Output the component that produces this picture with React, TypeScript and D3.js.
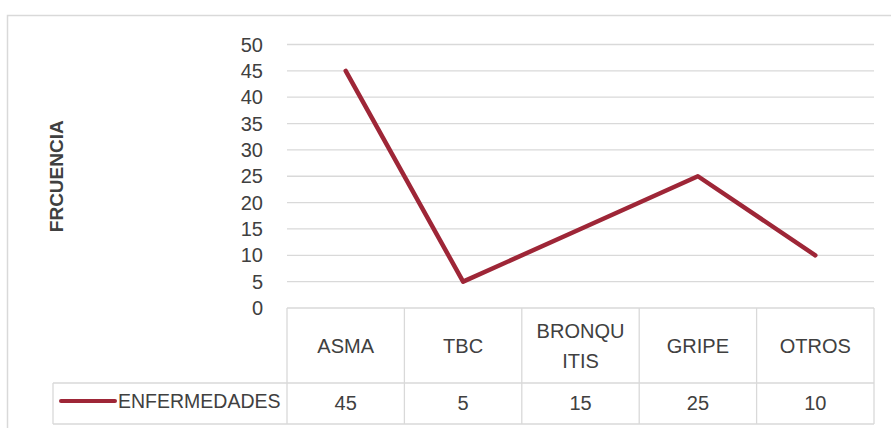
import React from "react";
import * as d3 from "d3";

const categories = ["ASMA", "TBC", "BRONQUITIS", "GRIPE", "OTROS"];
const categoryLabelLines = [["ASMA"], ["TBC"], ["BRONQU", "ITIS"], ["GRIPE"], ["OTROS"]];
const values = [45, 5, 15, 25, 10];
const seriesName = "ENFERMEDADES";
const yTicks = [0, 5, 10, 15, 20, 25, 30, 35, 40, 45, 50];
const yTitle = "FRCUENCIA";

const W = 891;
const H = 428;
const plotLeft = 287;
const plotRight = 874;
const plotTop = 44.5;
const plotBottom = 308;
const rowDivider = 383;
const tableBottom = 424;
const legendLeft = 53;
const lineColor = "#9e2637";
const gridColor = "#d9d9d9";
const textColor = "#404040";
const font = "'Liberation Sans', Arial, sans-serif";

export default function App() {
  const x = d3.scaleBand<string>().domain(categories).range([plotLeft, plotRight]).padding(0);
  const y = d3.scaleLinear().domain([0, 50]).range([plotBottom, plotTop]);
  const cx = (c: string) => (x(c) as number) + x.bandwidth() / 2;
  const line = d3
    .line<number>()
    .x((_, i) => cx(categories[i]))
    .y((d) => y(d));

  return (
    <svg width={W} height={H} style={{ position: "absolute", left: 0, top: 0, background: "#fff" }} fontFamily={font}>
      {/* chart border */}
      <rect x={7.5} y={15.5} width={W + 10} height={H + 10} fill="#fff" stroke={gridColor} strokeWidth={1.5} />
      {/* gridlines */}
      {yTicks.filter((t) => t > 0).map((t) => (
        <line key={t} x1={plotLeft} x2={plotRight} y1={y(t)} y2={y(t)} stroke={gridColor} strokeWidth={1.3} />
      ))}
      {/* tick labels */}
      {yTicks.map((t) => (
        <text key={t} x={263} y={y(t)} dy="0.35em" textAnchor="end" fontSize={20} fill={textColor}>
          {t}
        </text>
      ))}
      {/* y title */}
      <text
        transform={`translate(63, ${(plotTop + plotBottom) / 2}) rotate(-90)`}
        textAnchor="middle"
        fontSize={19}
        fontWeight="bold"
        fill={textColor}
      >
        {yTitle}
      </text>
      {/* data table */}
      <g stroke={gridColor} strokeWidth={1.3} fill="none">
        <line x1={plotLeft} x2={plotRight} y1={plotBottom} y2={plotBottom} />
        <line x1={legendLeft} x2={plotRight} y1={rowDivider} y2={rowDivider} />
        <line x1={legendLeft} x2={plotRight} y1={tableBottom} y2={tableBottom} />
        <line x1={legendLeft} x2={legendLeft} y1={rowDivider} y2={tableBottom} />
        {categories.map((c) => (
          <line key={c} x1={x(c) as number} x2={x(c) as number} y1={plotBottom} y2={tableBottom} />
        ))}
        <line x1={plotRight} x2={plotRight} y1={plotBottom} y2={tableBottom} />
      </g>
      {categories.map((c, i) => {
        const lines = categoryLabelLines[i];
        const mid = 346;
        const lh = 30;
        return (
          <text key={c} textAnchor="middle" fontSize={20} fill={textColor}>
            {lines.map((l, j) => (
              <tspan key={j} x={cx(c)} y={mid + (j - (lines.length - 1) / 2) * lh} dy="0.35em">
                {l}
              </tspan>
            ))}
          </text>
        );
      })}
      {values.map((v, i) => (
        <text key={i} x={cx(categories[i])} y={403} dy="0.35em" textAnchor="middle" fontSize={20} fill={textColor}>
          {v}
        </text>
      ))}
      {/* legend key */}
      <line x1={61} x2={115} y1={401} y2={401} stroke={lineColor} strokeWidth={4} strokeLinecap="round" />
      <text x={118} y={401} dy="0.35em" fontSize={19.5} fill={textColor}>
        {seriesName}
      </text>
      {/* series line */}
      <path d={line(values) || ""} fill="none" stroke={lineColor} strokeWidth={4.5} strokeLinejoin="round" strokeLinecap="round" />
    </svg>
  );
}
